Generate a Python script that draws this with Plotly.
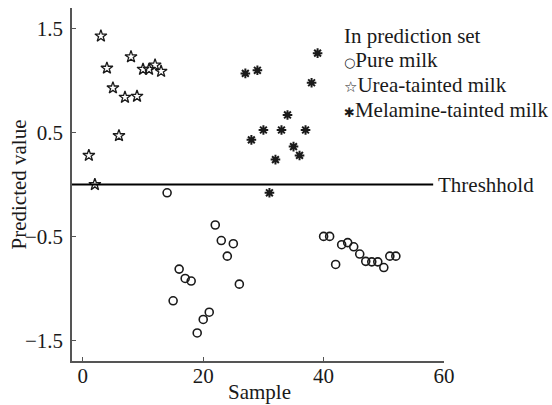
import plotly.graph_objects as go

# Sample indices and predicted values for each class in the prediction set
pure_x = [14, 15, 16, 17, 18, 19, 20, 21, 22, 23, 24, 25, 26,
          40, 41, 42, 43, 44, 45, 46, 47, 48, 49, 50, 51, 52]
pure_y = [-0.08, -1.12, -0.815, -0.905, -0.93, -1.43, -1.30, -1.23, -0.39, -0.54, -0.69, -0.57, -0.96,
          -0.50, -0.50, -0.77, -0.58, -0.56, -0.60, -0.67, -0.74, -0.745, -0.745, -0.80, -0.69, -0.69]

urea_x = [1, 2, 3, 4, 5, 6, 7, 8, 9, 10, 11, 12, 13]
urea_y = [0.28, 0.00, 1.43, 1.12, 0.93, 0.47, 0.84, 1.23, 0.85, 1.11, 1.11, 1.15, 1.09]

mel_x = [27, 28, 29, 30, 31, 32, 33, 34, 35, 36, 37, 38, 39]
mel_y = [1.07, 0.43, 1.10, 0.525, -0.08, 0.24, 0.525, 0.67, 0.365, 0.28, 0.525, 0.98, 1.265]

threshold = 0.0
threshold_end = 58.2

x_ticks = [0, 20, 40, 60]
y_ticks = [-1.5, -0.5, 0.5, 1.5]
y_tick_text = ["\u22121.5", "\u22120.5", "0.5", "1.5"]

legend_title = "In prediction set"
legend_items = [("\u25cb", 13, "Pure milk"), ("\u2606", 15, "Urea-tainted milk"),
                ("\u2731", 13, "Melamine-tainted milk")]

FONT = "Liberation Serif, Times New Roman, serif"
FS = 21
INK = "#1a1a1a"
AXIS = "#555555"

fig = go.Figure()

fig.add_trace(go.Scatter(
    x=pure_x, y=pure_y, mode="markers", name="Pure milk",
    marker=dict(symbol="circle-open", size=8, color=INK, line=dict(width=1.6, color=INK)),
))
fig.add_trace(go.Scatter(
    x=urea_x, y=urea_y, mode="markers", name="Urea-tainted milk",
    marker=dict(symbol="star-open", size=9, color=INK, line=dict(width=1.3, color=INK)),
))
fig.add_trace(go.Scatter(
    x=mel_x, y=mel_y, mode="markers", name="Melamine-tainted milk",
    marker=dict(symbol="asterisk-open", size=8, color=INK, line=dict(width=2, color=INK)),
))

# Threshold line from the y axis to just short of the right end of the x axis
fig.add_shape(type="line", xref="x", yref="y", x0=-1.8, x1=threshold_end,
              y0=threshold, y1=threshold, line=dict(color="black", width=2))
fig.add_annotation(x=threshold_end + 0.45, y=threshold, xref="x", yref="y",
                   text="Threshhold", showarrow=False, xanchor="left", yanchor="middle",
                   font=dict(family=FONT, size=FS, color=INK))

# Plot area in pixels
L, T, W, H = 72, 8, 372, 353


def px_to_paper(px, py):
    return (px - L) / W, (T + H - py) / H


# Text legend in the upper right corner
lx, ly = px_to_paper(342, 36)
fig.add_annotation(x=lx, y=ly, xref="paper", yref="paper", text=legend_title,
                   showarrow=False, xanchor="left", yanchor="middle",
                   font=dict(family=FONT, size=FS, color=INK))
for i, (glyph, gsize, label) in enumerate(legend_items):
    gx, gy = px_to_paper(342, 60 + 25 * i)
    fig.add_annotation(
        x=gx, y=gy, xref="paper", yref="paper",
        text=f"<span style='font-size:{gsize}px;font-family:DejaVu Sans'>{glyph}</span>{label}",
        showarrow=False, xanchor="left", yanchor="middle",
        font=dict(family=FONT, size=FS, color=INK))

# Axis titles
tx, _ = px_to_paper(18, 0)
fig.add_annotation(x=tx, y=0.5, xref="paper", yref="paper", text="Predicted value",
                   textangle=-90, showarrow=False, xanchor="center", yanchor="middle",
                   font=dict(family=FONT, size=FS, color=INK))
sx, sy = px_to_paper(259, 392)
fig.add_annotation(x=sx, y=sy, xref="paper", yref="paper", text="Sample",
                   showarrow=False, xanchor="center", yanchor="middle",
                   font=dict(family=FONT, size=FS, color=INK))

axis_common = dict(
    showline=True, linecolor=AXIS, linewidth=1.5,
    ticks="inside", ticklen=4, tickwidth=1.3, tickcolor=AXIS,
    showgrid=False, zeroline=False, mirror=False, automargin=False,
    tickfont=dict(family=FONT, size=FS, color=INK),
)

fig.update_xaxes(range=[-1.8, 60], tickvals=x_ticks, ticklabelstandoff=-5, **axis_common)
fig.update_yaxes(range=[-1.7, 1.7], tickvals=y_ticks, ticktext=y_tick_text,
                 ticklabelstandoff=3, **axis_common)

fig.update_layout(
    width=552, height=405,
    margin=dict(l=L, r=552 - L - W, t=T, b=405 - T - H, autoexpand=False),
    paper_bgcolor="white", plot_bgcolor="white",
    showlegend=False,
    font=dict(family=FONT, size=FS, color=INK),
)

fig.write_html("out.html")
